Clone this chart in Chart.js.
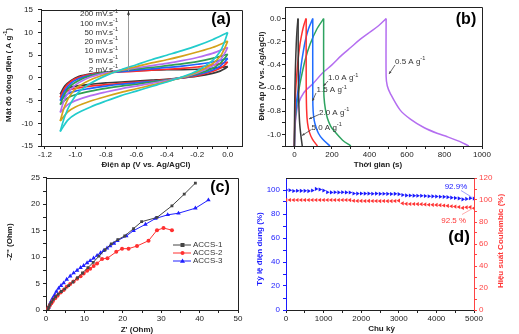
<!DOCTYPE html>
<html>
<head>
<meta charset="utf-8">
<script src="https://cdn.jsdelivr.net/npm/chart.js@4.4.1/dist/chart.umd.min.js"></script>
<style>
  html, body { margin: 0; padding: 0; background: #fff; }
  #wrap { position: relative; width: 519px; height: 334px; overflow: hidden; }
  canvas { position: absolute; }
</style>
</head>
<body>
<div id="wrap">
  <canvas id="ca" width="256" height="170" style="left:0;top:0"></canvas>
  <canvas id="cb" width="263" height="170" style="left:256px;top:0"></canvas>
  <canvas id="cc" width="256" height="164" style="left:0;top:170px"></canvas>
  <canvas id="cd" width="263" height="164" style="left:256px;top:170px"></canvas>
</div>
<script>
// ---- (a) CV curves: shared potential grids, current density per scan rate
const cvUpX = [-1.10, -1.07, -1.03, -0.98, -0.9, -0.8, -0.7, -0.6, -0.5, -0.4, -0.3, -0.2, -0.1, 0.0];
const cvDownX = [0.0, -0.02, -0.05, -0.1, -0.2, -0.3, -0.4, -0.5, -0.6, -0.7, -0.8, -0.9, -1.0, -1.05, -1.1];
const scanRates = ['200', '100', '50', '20', '10', '5', '2'];
const cv200Up = [-11.8, -8.5, -5.5, -3.2, -1.2, 0.5, 1.8, 2.9, 4.0, 5.0, 6.0, 7.1, 8.4, 10.0];
const cv200Down = [10.0, 8.0, 5.8, 3.8, 1.6, 0.2, -0.9, -1.9, -2.9, -3.9, -5.1, -6.4, -8.0, -9.3, -11.8];
const cv100Up = [-9.5, -6.2, -3.6, -1.9, -0.4, 0.8, 1.7, 2.5, 3.3, 4.0, 4.8, 5.7, 6.7, 8.1];
const cv100Down = [8.1, 6.5, 4.7, 3.1, 1.3, 0.1, -0.8, -1.6, -2.4, -3.2, -4.1, -5.1, -6.4, -7.5, -9.5];
const cv50Up = [-7.6, -4.6, -2.5, -1.1, 0.2, 1.1, 1.7, 2.2, 2.7, 3.2, 3.8, 4.5, 5.4, 6.7];
const cv50Down = [6.7, 5.4, 3.9, 2.6, 1.1, 0.1, -0.6, -1.2, -1.8, -2.4, -3.1, -3.9, -5.0, -5.9, -7.6];
const cv20Up = [-5.9, -3.5, -1.7, -0.6, 0.5, 1.2, 1.6, 2.0, 2.3, 2.7, 3.1, 3.6, 4.3, 5.2];
const cv20Down = [5.2, 4.3, 3.2, 2.1, 0.9, 0.1, -0.5, -0.9, -1.4, -1.8, -2.3, -2.9, -3.7, -4.4, -5.9];
const cv10Up = [-5.0, -2.8, -1.2, -0.2, 0.6, 1.1, 1.4, 1.7, 2.0, 2.3, 2.6, 3.0, 3.5, 4.3];
const cv10Down = [4.3, 3.5, 2.6, 1.7, 0.7, 0.0, -0.5, -0.8, -1.1, -1.4, -1.8, -2.3, -2.9, -3.5, -5.0];
const cv5Up = [-4.3, -2.2, -0.8, 0.1, 0.8, 1.1, 1.3, 1.5, 1.7, 1.9, 2.1, 2.4, 2.8, 3.5];
const cv5Down = [3.5, 2.8, 2.1, 1.4, 0.5, 0.0, -0.4, -0.7, -0.9, -1.2, -1.5, -1.8, -2.3, -2.8, -4.3];
const cv2Up = [-3.6, -1.8, -0.6, 0.3, 0.9, 1.3, 1.5, 1.6, 1.7, 1.8, 1.8, 1.9, 2.1, 2.5];
const cv2Down = [2.5, 2.0, 1.5, 1.0, 0.4, 0.0, -0.3, -0.5, -0.7, -0.9, -1.1, -1.4, -1.8, -2.3, -3.6];
const aXMajor = [-1.2, -1.0, -0.8, -0.6, -0.4, -0.2, 0.0];
const aXMinor = [-1.1, -0.9, -0.7, -0.5, -0.3, -0.1];
const aYMajor = [-15, -10, -5, 0, 5, 10, 15];
const aYMinor = [-12.5, -7.5, -2.5, 2.5, 7.5, 12.5];

// ---- (b) GCD curves [time s, potential V]
const currents = ['5.0', '2.0', '1.5', '1.0', '0.5'];
const gcd50Charge = [[0, -1.1], [1, -0.85], [3, -0.6], [6, -0.4], [10, -0.22], [14, -0.1], [19, 0]];
const gcd50Dis = [[20, 0], [20.5, -0.3], [21.5, -0.55], [24, -0.75], [28, -0.9], [34, -1.0], [42, -1.1]];
const gcd20Charge = [[0, -1.1], [2, -0.85], [6, -0.65], [12, -0.5], [20, -0.35], [30, -0.22], [40, -0.13], [50, -0.06], [62, 0]];
const gcd20Dis = [[63, 0], [63, -0.55], [65, -0.78], [70, -0.9], [80, -0.98], [96, -1.04], [123, -1.1]];
const gcd15Charge = [[0, -1.1], [3, -0.88], [10, -0.74], [21, -0.6], [30, -0.48], [40, -0.36], [57, -0.2], [75, -0.09], [98, 0]];
const gcd15Dis = [[98, 0], [98, -0.68], [100, -0.8], [106, -0.88], [114, -0.93], [128, -0.99], [150, -1.04], [190, -1.1]];
const gcd10Charge = [[0, -1.1], [3, -0.92], [10, -0.78], [20, -0.66], [30, -0.56], [57, -0.36], [84, -0.22], [120, -0.09], [156, 0]];
const gcd10Dis = [[156, 0], [156, -0.55], [158, -0.68], [165, -0.78], [176, -0.86], [194, -0.93], [212, -0.97], [257, -1.05], [301, -1.1]];
const gcd05Charge = [[0, -1.1], [3, -0.95], [8, -0.85], [20, -0.74], [50, -0.64], [100, -0.56], [150, -0.47], [200, -0.40], [250, -0.32], [300, -0.25], [350, -0.18], [400, -0.12], [450, -0.06], [489, 0]];
const gcd05Dis = [[489, 0], [489, -0.5], [495, -0.58], [511, -0.645], [564, -0.79], [620, -0.87], [690, -0.94], [760, -0.99], [815, -1.02], [880, -1.06], [930, -1.1]];
const bXMajor = [0, 200, 400, 600, 800, 1000];
const bXMinor = [100, 300, 500, 700, 900];
const bYMajor = [-1.0, -0.8, -0.6, -0.4, -0.2, 0.0];
const bYMinor = [-1.1, -0.9, -0.7, -0.5, -0.3, -0.1];

// ---- (c) Nyquist [Z' Ohm, -Z'' Ohm]
const samples = ['ACCS-1', 'ACCS-2', 'ACCS-3'];
const nyq1 = [[0.5, 0], [0.7, 0.5], [1.0, 1.0], [1.4, 1.5], [1.9, 2.0], [2.5, 2.5], [3.2, 3.0], [4.0, 3.5], [4.9, 4.0], [5.9, 4.6], [7.0, 5.3], [8.2, 6.1], [9.5, 7.0], [10.9, 8.0], [12.3, 9.0], [13.8, 10.2], [15.4, 11.4], [17.0, 12.5], [18.7, 13.3], [20.5, 14.0], [22.8, 15.4], [24.9, 16.7], [28.9, 17.5], [32.8, 19.7], [36.0, 21.9], [38.9, 24.0]];
const nyq2 = [[0.4, 0], [0.6, 0.4], [0.95, 0.8], [1.4, 1.3], [1.8, 1.7], [2.4, 2.2], [3.0, 2.7], [3.8, 3.3], [4.6, 3.8], [5.4, 4.4], [6.3, 4.9], [7.2, 5.4], [8.1, 5.9], [9.0, 6.4], [9.8, 6.9], [10.7, 7.4], [11.5, 7.8], [12.4, 8.3], [13.3, 8.8], [14.6, 9.65], [16.0, 9.8], [18.3, 11.0], [19.8, 11.6], [21.5, 11.6], [23.7, 12.1], [26.7, 13.1], [28.9, 15.1], [30.6, 15.5], [32.8, 15.1]];
const nyq3 = [[0.4, 0.05], [0.7, 0.55], [1.0, 1.1], [1.3, 1.6], [1.7, 2.2], [2.2, 2.8], [2.7, 3.5], [3.3, 4.1], [3.9, 4.6], [4.6, 5.1], [5.4, 5.8], [6.3, 6.4], [7.2, 7.0], [8.1, 7.5], [9.0, 8.0], [9.8, 8.4], [10.7, 8.9], [11.5, 9.3], [12.4, 9.8], [13.3, 10.3], [14.2, 10.8], [15.0, 11.2], [15.9, 11.7], [16.7, 12.1], [17.7, 12.6], [18.6, 13.1], [20.9, 14.0], [22.8, 15.0], [25.9, 16.2], [28.5, 17.3], [31.7, 18.0], [34.5, 18.3], [38.9, 19.25], [42.3, 20.8]];
const cXMajor = [0, 10, 20, 30, 40, 50];
const cXMinor = [5, 15, 25, 35, 45];
const cYMajor = [0, 5, 10, 15, 20, 25];
const cYMinor = [2.5, 7.5, 12.5, 17.5, 22.5];

// ---- (d) cycling stability
const cycles = [0, 100, 200, 300, 400, 500, 600, 700, 800, 900, 1000, 1100, 1200, 1300, 1400, 1500, 1600, 1700, 1800, 1900, 2000, 2100, 2200, 2300, 2400, 2500, 2600, 2700, 2800, 2900, 3000, 3100, 3200, 3300, 3400, 3500, 3600, 3700, 3800, 3900, 4000, 4100, 4200, 4300, 4400, 4500, 4600, 4700, 4800, 4900, 5000];
const capRetention = [100, 99.8, 99.2, 99.4, 99.3, 99.3, 99.1, 99.6, 100.9, 100.4, 99.6, 98.1, 98.0, 98.1, 98.0, 98.1, 98.0, 97.9, 97.1, 97.0, 97.1, 97.0, 97.0, 96.9, 97.0, 96.8, 96.9, 96.8, 96.7, 96.8, 96.5, 95.8, 95.5, 95.4, 95.3, 95.2, 95.2, 95.0, 94.8, 94.7, 94.6, 94.4, 94.3, 94.0, 93.6, 93.3, 93.0, 92.2, 92.6, 93.1, 92.9];
const coulombicEff = [100, 100, 100, 100, 100, 100, 100, 100, 100, 100, 100, 100, 100, 100, 100, 100, 100, 99.9, 99.3, 99.2, 99.2, 99.1, 99.2, 99.1, 99.1, 99.0, 99.1, 99.0, 99.0, 99.1, 99.4, 97.0, 96.5, 96.4, 96.4, 96.3, 96.2, 96.0, 95.7, 95.6, 95.5, 95.3, 95.0, 94.7, 94.3, 94.0, 93.6, 92.8, 93.3, 93.5, 92.5];
const dXMajor = [0, 1000, 2000, 3000, 4000, 5000];
const dXMinor = [500, 1500, 2500, 3500, 4500];
const dYLMajor = [0, 20, 40, 60, 80, 100];
const dYLMinor = [10, 30, 50, 70, 90];
const dYRMajor = [0, 20, 40, 60, 80, 100, 120];
const dYRMinor = [10, 30, 50, 70, 90, 110];

const FONT = '"Liberation Sans", Arial, Helvetica, sans-serif';
const INK = '#222';

function pts(xs, ys) { return xs.map((x, i) => ({ x: x, y: ys[i] })); }
function pairs(arr) { return arr.map(p => ({ x: p[0], y: p[1] })); }

function axis(pos, min, max, majors, minors, size, fmt, color, pad) {
  const horiz = pos === 'bottom' || pos === 'top';
  return {
    type: 'linear', position: pos, min: min, max: max,
    afterBuildTicks: s => { s.ticks = majors.concat(minors).sort((a, b) => a - b).map(v => ({ value: v })); },
    afterFit: s => { if (horiz) s.height = size; else s.width = size; },
    ticks: {
      autoSkip: false, maxRotation: 0, padding: pad, color: color,
      font: { family: FONT, size: 8 },
      callback: v => majors.includes(v) ? fmt(v) : ''
    },
    grid: { drawOnChartArea: false, tickLength: 3, color: color, tickColor: color },
    border: { color: color, width: 1 }
  };
}

function baseOptions(pad, scales) {
  return {
    responsive: false, animation: false, devicePixelRatio: 1,
    layout: { padding: { top: pad.top, right: pad.right, left: 0, bottom: 0 } },
    plugins: { legend: { display: false }, tooltip: { enabled: false } },
    elements: { point: { radius: 0 }, line: { borderWidth: 1.6 } },
    scales: scales
  };
}

// text with optional superscript parts: [[text, isSup], ...]
function rich(ctx, parts, x, y, size, bold, color, align) {
  const f = s => (bold ? 'bold ' : '') + s + 'px ' + FONT;
  ctx.fillStyle = color;
  ctx.textBaseline = 'middle';
  ctx.textAlign = 'left';
  let w = 0;
  parts.forEach(p => { ctx.font = f(p[1] ? size * 0.7 : size); w += ctx.measureText(p[0]).width; });
  let cx = align === 'center' ? x - w / 2 : align === 'right' ? x - w : x;
  parts.forEach(p => {
    ctx.font = f(p[1] ? size * 0.7 : size);
    ctx.fillText(p[0], cx, p[1] ? y - size * 0.38 : y);
    cx += ctx.measureText(p[0]).width;
  });
}

function vrich(ctx, parts, x, y, size, bold, color) {
  ctx.save();
  ctx.translate(x, y);
  ctx.rotate(-Math.PI / 2);
  rich(ctx, parts, 0, 0, size, bold, color, 'center');
  ctx.restore();
}

function arrow(ctx, x1, y1, x2, y2, color, head) {
  const a = Math.atan2(y2 - y1, x2 - x1);
  ctx.strokeStyle = color; ctx.fillStyle = color; ctx.lineWidth = 0.8;
  ctx.beginPath(); ctx.moveTo(x1, y1); ctx.lineTo(x2, y2); ctx.stroke();
  ctx.beginPath();
  ctx.moveTo(x2, y2);
  ctx.lineTo(x2 - head * Math.cos(a - 0.4), y2 - head * Math.sin(a - 0.4));
  ctx.lineTo(x2 - head * Math.cos(a + 0.4), y2 - head * Math.sin(a + 0.4));
  ctx.closePath(); ctx.fill();
}

function deco(ox, oy, box, fn) {
  return {
    id: 'deco',
    afterDraw(chart) {
      const ctx = chart.ctx, a = chart.chartArea;
      ctx.save();
      if (box) {
        ctx.strokeStyle = INK; ctx.lineWidth = 1;
        ctx.beginPath();
        ctx.moveTo(Math.round(a.left), Math.round(a.top) + 0.5);
        ctx.lineTo(Math.round(a.right) + 0.5, Math.round(a.top) + 0.5);
        if (box === 'full') ctx.lineTo(Math.round(a.right) + 0.5, Math.round(a.bottom));
        ctx.stroke();
      }
      ctx.translate(-ox, -oy);
      fn(ctx, chart);
      ctx.restore();
    }
  };
}

const sup = '-1';

// ================= (a) =================
const cvColors = ['#22cccc', '#d4a21a', '#b46ef0', '#2f9e52', '#1f62ff', '#ff2a2a', '#3a3a3a'];
const cvUp = [cv200Up, cv100Up, cv50Up, cv20Up, cv10Up, cv5Up, cv2Up];
const cvDown = [cv200Down, cv100Down, cv50Down, cv20Down, cv10Down, cv5Down, cv2Down];
const cvSets = [];
scanRates.forEach((r, i) => {
  cvSets.push({ label: r + ' up', data: pts(cvUpX, cvUp[i]), showLine: true, tension: 0.3, borderColor: cvColors[i], borderWidth: 1.7 });
  cvSets.push({ label: r + ' down', data: pts(cvDownX, cvDown[i]), showLine: true, tension: 0.3, borderColor: cvColors[i], borderWidth: 1.7 });
});

new Chart(document.getElementById('ca'), {
  type: 'scatter',
  data: { datasets: cvSets },
  options: baseOptions({ top: 7, right: 14 }, {
    x: axis('bottom', -1.226, 0.094, aXMajor, aXMinor, 24, v => v.toFixed(1), INK, 1),
    y: axis('left', -15, 15, aYMajor, aYMinor, 41, v => String(v), INK, 5)
  }),
  plugins: [deco(0, 0, 'full', (ctx) => {
    vrich(ctx, [['Mật độ dòng điện ( A g', 0], [sup, 1], [')', 0]], 8.5, 75, 8, true, INK);
    rich(ctx, [['Điện áp (V vs. Ag/AgCl)', 0]], 146, 165, 8, true, INK, 'center');
    rich(ctx, [['(a)', 0]], 221, 20, 16, true, '#000', 'center');
    const ys = [14, 23.3, 32.5, 41.8, 51, 60.3, 69.5];
    scanRates.forEach((r, i) => rich(ctx, [[r + ' mV.s', 0], [sup, 1]], 118, ys[i], 8, false, '#333', 'right'));
    ctx.strokeStyle = '#999'; ctx.lineWidth = 1;
    ctx.beginPath(); ctx.moveTo(128.5, 71); ctx.lineTo(128.5, 15); ctx.stroke();
    arrow(ctx, 128.5, 16, 128.5, 11, '#333', 4);
  })]
});

// ================= (b) =================
const gcdColors = ['#3a3a3a', '#ff3030', '#1f6cff', '#2ea360', '#b46ef0'];
const gcdCharge = [gcd50Charge, gcd20Charge, gcd15Charge, gcd10Charge, gcd05Charge];
const gcdDis = [gcd50Dis, gcd20Dis, gcd15Dis, gcd10Dis, gcd05Dis];
const gcdSets = [];
currents.forEach((c, i) => {
  gcdSets.push({ label: c + ' ch', data: pairs(gcdCharge[i]), showLine: true, tension: 0.3, borderColor: gcdColors[i], borderWidth: 1.5 });
  gcdSets.push({ label: c + ' dis', data: pairs(gcdDis[i]), showLine: true, tension: 0.3, borderColor: gcdColors[i], borderWidth: 1.5 });
});

new Chart(document.getElementById('cb'), {
  type: 'scatter',
  data: { datasets: gcdSets },
  options: baseOptions({ top: 7, right: 37 }, {
    x: axis('bottom', -50, 1000, bXMajor, bXMinor, 24, v => String(v), INK, 1),
    y: axis('left', -1.1, 0.1, bYMajor, bYMinor, 29, v => v.toFixed(1), INK, 1)
  }),
  plugins: [deco(256, 0, 'full', (ctx) => {
    vrich(ctx, [['Điện áp (V vs. Ag/AgCl)', 0]], 261.5, 76, 8, true, INK);
    rich(ctx, [['Thời gian (s)', 0]], 378, 165, 8, true, INK, 'center');
    rich(ctx, [['(b)', 0]], 466, 20, 16, true, '#000', 'center');
    const lab = [['1.0', 328, 78], ['1.5', 316.5, 90], ['2.0', 319, 112.5], ['5.0', 311.5, 127.5], ['0.5', 395, 61.5]];
    lab.forEach(l => rich(ctx, [[l[0] + ' A g', 0], [sup, 1]], l[1], l[2], 8, false, '#333', 'left'));
    arrow(ctx, 328, 81, 323.5, 86, '#444', 3);
    arrow(ctx, 316, 93, 312.5, 101, '#444', 3);
    arrow(ctx, 319, 114.5, 309, 119, '#444', 3);
    arrow(ctx, 311.5, 129.5, 302, 135.5, '#444', 3);
    arrow(ctx, 395, 65, 389, 74, '#444', 3);
  })]
});

// ================= (c) =================
const nyqColors = ['#444444', '#ff3030', '#2020ff'];
const nyqStyles = ['rect', 'circle', 'triangle'];
const nyqRadius = [2, 2, 2.6];
const nyqData = [nyq1, nyq2, nyq3];
const nyqSets = samples.map((s, i) => ({
  label: s, data: pairs(nyqData[i]), showLine: true, tension: 0, borderColor: nyqColors[i],
  backgroundColor: nyqColors[i], borderWidth: 1, pointStyle: nyqStyles[i], pointRadius: nyqRadius[i], pointBorderWidth: 0
}));

new Chart(document.getElementById('cc'), {
  type: 'scatter',
  data: { datasets: nyqSets },
  options: baseOptions({ top: 6, right: 18 }, {
    x: axis('bottom', 0, 50, cXMajor, cXMinor, 24, v => String(v), INK, 1),
    y: axis('left', 0, 25, cYMajor, cYMinor, 46, v => String(v), INK, 3)
  }),
  plugins: [deco(0, 170, 'full', (ctx) => {
    vrich(ctx, [['-Z" (Ohm)', 0]], 9.5, 242, 8, true, INK);
    rich(ctx, [["Z' (Ohm)", 0]], 137, 330, 8, true, INK, 'center');
    rich(ctx, [['(c)', 0]], 220, 187.5, 16, true, '#000', 'center');
    const ly = [245, 253, 261];
    samples.forEach((s, i) => {
      ctx.strokeStyle = nyqColors[i]; ctx.fillStyle = nyqColors[i]; ctx.lineWidth = 1;
      ctx.beginPath(); ctx.moveTo(173, ly[i]); ctx.lineTo(191, ly[i]); ctx.stroke();
      ctx.beginPath();
      if (i === 0) ctx.rect(180.5, ly[i] - 2, 4, 4);
      else if (i === 1) ctx.arc(182.5, ly[i], 2, 0, Math.PI * 2);
      else { ctx.moveTo(182.5, ly[i] - 2.6); ctx.lineTo(185, ly[i] + 1.8); ctx.lineTo(180, ly[i] + 1.8); ctx.closePath(); }
      ctx.fill();
      rich(ctx, [[s, 0]], 193, ly[i], 8, false, '#333', 'left');
    });
  })]
});

// ================= (d) =================
const BLUE = '#1a1aff', RED = '#ff3535';
new Chart(document.getElementById('cd'), {
  type: 'scatter',
  data: {
    datasets: [
      { label: 'ret', data: pts(cycles, capRetention), yAxisID: 'y', pointStyle: 'triangle', rotation: 90, pointRadius: 2.4,
        backgroundColor: BLUE, borderColor: BLUE, pointBorderWidth: 0 },
      { label: 'ce', data: pts(cycles, coulombicEff), yAxisID: 'y2', pointStyle: 'triangle', rotation: -90, pointRadius: 2.4,
        backgroundColor: RED, borderColor: RED, pointBorderWidth: 0 }
    ]
  },
  options: baseOptions({ top: 8, right: 0 }, {
    x: axis('bottom', 0, 5000, dXMajor, dXMinor, 24, v => String(v), INK, 1),
    y: axis('left', 0, 110, dYLMajor, dYLMinor, 30, v => String(v), BLUE, 3),
    y2: axis('right', 0, 120, dYRMajor, dYRMinor, 45, v => String(v), '#ff4444', 2)
  }),
  plugins: [deco(256, 170, 'top', (ctx) => {
    vrich(ctx, [['Tỷ lệ điện dung (%)', 0]], 260, 249, 8, true, BLUE);
    vrich(ctx, [['Hiệu suất Coulombic (%)', 0]], 500.5, 241, 8, true, RED);
    rich(ctx, [['Chu kỳ', 0]], 381.5, 329, 8, true, INK, 'center');
    rich(ctx, [['(d)', 0]], 459, 237, 17, true, '#000', 'center');
    rich(ctx, [['92.9%', 0]], 456, 186.7, 8, false, BLUE, 'center');
    rich(ctx, [['92.5 %', 0]], 453.7, 221, 8, false, RED, 'center');
    ctx.lineWidth = 0.7;
    ctx.strokeStyle = '#7777ff';
    ctx.beginPath(); ctx.moveTo(461, 190.5); ctx.lineTo(471.5, 197); ctx.stroke();
    ctx.strokeStyle = '#ff8888';
    ctx.beginPath(); ctx.moveTo(462, 214.5); ctx.lineTo(472.5, 208.5); ctx.stroke();
  })]
});
</script>
</body>
</html>
